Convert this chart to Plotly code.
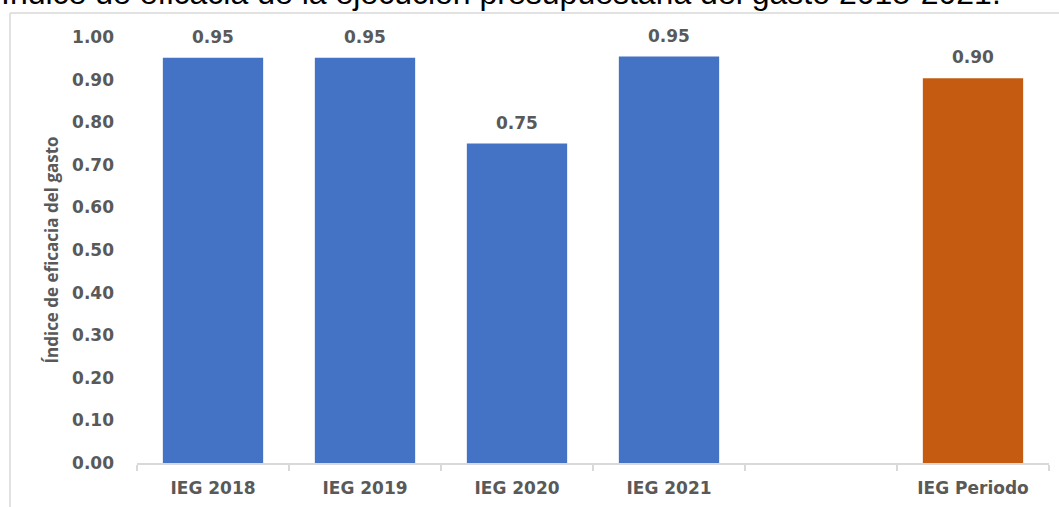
import plotly.graph_objects as go

categories = ["IEG 2018", "IEG 2019", "IEG 2020", "IEG 2021", " ", "IEG Periodo"]
values = [0.951, 0.951, 0.750, 0.954, None, 0.903]
bar_colors = ["#4472C4", "#4472C4", "#4472C4", "#4472C4", "#4472C4", "#C55A11"]
y_ticks = [0.0, 0.1, 0.2, 0.3, 0.4, 0.5, 0.6, 0.7, 0.8, 0.9, 1.0]
title_text = "Índice de eficacia de la ejecución presupuestaria del gasto 2018-2021."
y_title = "Índice de eficacia del gasto"

W, H = 1059, 507
ML, MR, MT, MB = 137, 10, 37, 44
PW, PH = W - ML - MR, H - MT - MB

TXT = "#595959"
FONT = "DejaVu Sans"

fig = go.Figure()
fig.add_trace(go.Bar(
    x=categories, y=values, marker=dict(color=bar_colors, line=dict(width=0)),
    hoverinfo="skip", showlegend=False,
))

for c, v in zip(categories, values):
    if v is None:
        continue
    fig.add_annotation(
        x=c, y=v, xref="x", yref="y", text=f"<b>{v:.2f}</b>", showarrow=False,
        yanchor="bottom", yshift=9, font=dict(family=FONT, size=17, color=TXT),
    )

# chart title (partially cut at the top as in the source image)
fig.add_annotation(
    xref="paper", yref="paper", x=(-1 - ML) / PW, y=1 + (MT - 13.5) / PH,
    xanchor="left", yanchor="bottom", text=title_text, showarrow=False,
    font=dict(family="Liberation Sans", size=32, color="#000000"),
)

# outer chart frame
fig.add_shape(type="line", xref="paper", yref="paper",
              x0=(10 - ML) / PW, x1=(10 - ML) / PW, y0=-(MB + 5) / PH, y1=1 + (MT - 13) / PH,
              line=dict(color="#D9D9D9", width=1.5))
fig.add_shape(type="line", xref="paper", yref="paper",
              x0=(10 - ML) / PW, x1=1 + (MR + 5) / PW, y0=1 + (MT - 13) / PH, y1=1 + (MT - 13) / PH,
              line=dict(color="#D9D9D9", width=1.5))

fig.update_layout(
    width=W, height=H, margin=dict(l=ML, r=MR, t=MT, b=MB),
    paper_bgcolor="white", plot_bgcolor="white", bargap=0.34,
    font=dict(family=FONT, color=TXT),
)
fig.update_xaxes(
    type="category", categoryorder="array", categoryarray=categories,
    showline=True, linecolor="#D9D9D9", linewidth=1.5,
    ticks="outside", tickson="boundaries", ticklen=6, tickcolor="#D9D9D9", tickwidth=1.5,
    tickfont=dict(family=FONT, size=17, color=TXT, weight="bold"),
    ticklabelstandoff=9, showgrid=False,
)
fig.update_yaxes(
    range=[0, 1.0], tickvals=y_ticks, tickformat=".2f", showgrid=False,
    zeroline=False, showline=False, ticks="",
    tickfont=dict(family=FONT, size=17, color=TXT, weight="bold"),
    ticklabelstandoff=22,
    title=dict(text=y_title, font=dict(family="Liberation Sans Narrow, Open Sans", size=17, color=TXT, weight="bold"), standoff=9),
)

fig.write_html("out.html", config={"displayModeBar": False})

with open("out.html", "r", encoding="utf-8") as f:
    html = f.read()
html = html.replace("<head>", "<head><style>html,body{margin:0;padding:0;overflow:hidden;}</style>", 1)
with open("out.html", "w", encoding="utf-8") as f:
    f.write(html)
